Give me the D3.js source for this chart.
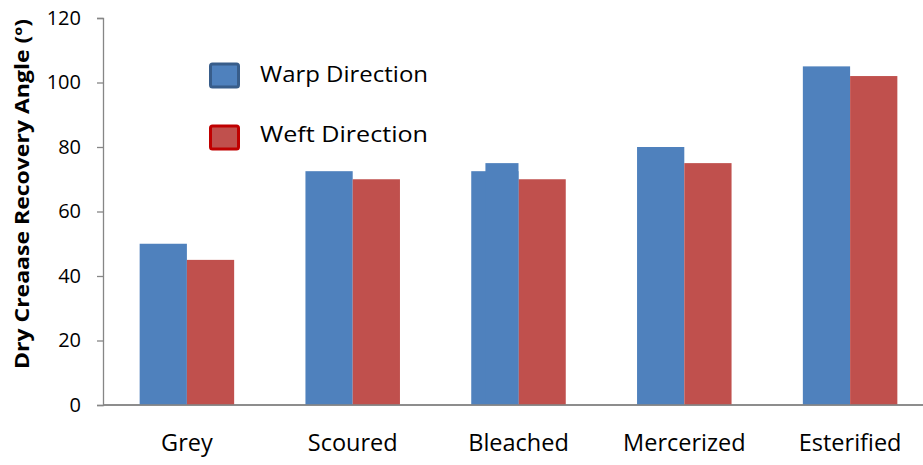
<!DOCTYPE html>
<html><head><meta charset="utf-8">
<script src="https://cdn.jsdelivr.net/npm/d3@7/dist/d3.min.js"></script>
<style>body{margin:0;background:#fff}svg{display:block}</style>
</head><body><svg id="c" width="923" height="465"></svg>
<script>
const categories = ["Grey","Scoured","Bleached","Mercerized","Esterified"];
const warp = [50, 72.5, 72.5, 80, 105];
const weft = [45, 70, 70, 75, 102];
// the Bleached warp bar shows a raised part (75) over most of its width
const warpRaised = [null, null, 75, null, null];
const yTicks = [0,20,40,60,80,100,120];
const seriesNames = ["Warp Direction","Weft Direction"];
const fills = ["#4f81bd","#c0504d"];
const strokes = ["#385d8a","#c00000"];

const svg = d3.select("#c");
const font = "'Open Sans', 'Noto Sans', sans-serif";
const y = d3.scaleLinear().domain([0,120]).range([405,18]);
const x = d3.scaleBand().domain(categories).range([104,933]).padding(0);
const bw = x.bandwidth()*0.285;

// axes
const yAxis = d3.axisLeft(y).tickValues(yTicks).tickSize(6).tickPadding(16);
const gy = svg.append("g").attr("transform","translate(103,0)").call(yAxis);
gy.select(".domain").attr("stroke","#868686").attr("stroke-width",1.3);
gy.selectAll(".tick line").attr("stroke","#868686").attr("stroke-width",1.3);
gy.selectAll(".tick text").attr("font-family",font).attr("font-size",20).attr("fill","#000");

const xAxis = d3.axisBottom(x).tickSize(0).tickPadding(29);
const gx = svg.append("g").attr("transform","translate(0,405)").call(xAxis);
gx.select(".domain").attr("stroke","#868686").attr("stroke-width",1.3).attr("d","M103,0H923");
gx.selectAll(".tick text").attr("font-family",font).attr("font-size",23.5).attr("fill","#000");

// bars
const gb = svg.append("g");
categories.forEach((c,i)=>{
  const cx = x(c)+x.bandwidth()/2;
  [warp[i], weft[i]].forEach((v,s)=>{
    gb.append("rect").attr("x", cx - bw + s*bw).attr("width", bw)
      .attr("y", y(v)).attr("height", y(0)-y(v)).attr("fill", fills[s]);
  });
  if (warpRaised[i] != null) {
    const v = warpRaised[i];
    gb.append("rect").attr("x", cx - bw*0.7).attr("width", bw*0.7)
      .attr("y", y(v)).attr("height", y(0)-y(v)).attr("fill", fills[0]);
  }
});
svg.append("line").attr("x1",103).attr("x2",923).attr("y1",405).attr("y2",405).attr("stroke","#868686").attr("stroke-width",1.3);

// y title
svg.append("text").attr("transform","translate(29,194) rotate(-90)")
  .attr("text-anchor","middle").attr("font-family",font).attr("font-weight","bold")
  .attr("font-size",19).attr("textLength",350).attr("lengthAdjust","spacingAndGlyphs")
  .text("Dry Creaase Recovery Angle (º)");

// legend
const lg = svg.append("g");
seriesNames.forEach((n,i)=>{
  const yy = 64 + i*62;
  lg.append("rect").attr("x",210.5).attr("y",yy).attr("width",28).attr("height",23)
    .attr("rx",2).attr("fill",fills[i]).attr("stroke",strokes[i]).attr("stroke-width",3);
  lg.append("text").attr("x",260).attr("y",82 + i*60).attr("font-family",font).attr("font-size",21)
    .attr("textLength",168).attr("lengthAdjust","spacingAndGlyphs")
    .attr("fill","#000").text(n);
});
</script></body></html>
